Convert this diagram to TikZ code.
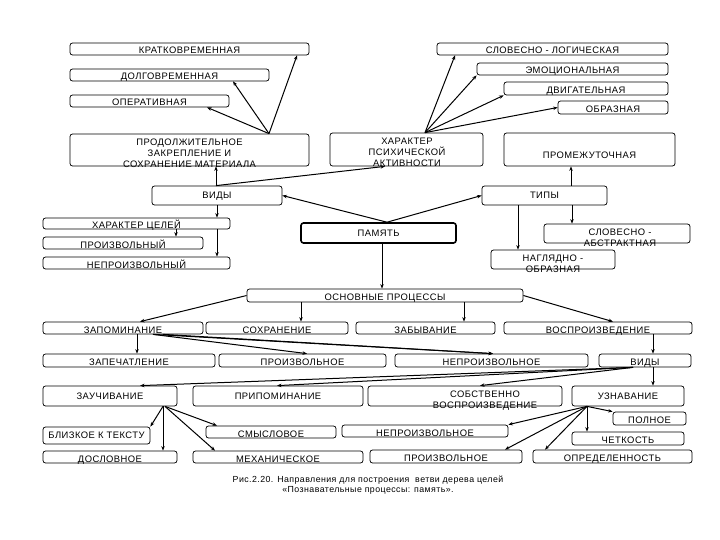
\documentclass[tikz,border=0pt]{standalone}
\usepackage{fontspec}
\setmainfont{Liberation Sans}[LetterSpace=5]
\usetikzlibrary{arrows.meta,calc}
\newcommand\mybox[7][]{%
  \pgfmathsetmacro\cxx{(#3+#5)/2}\pgfmathsetmacro\cyy{(#4+#6)/2}%
  \pgfmathsetmacro\ww{#5-#3}\pgfmathsetmacro\hh{#6-#4}%
  \node[box,minimum width=\ww pt,minimum height=\hh pt,#1] (#2) at (\cxx,\cyy) {#7};}
\begin{document}
\begin{tikzpicture}[x=1pt,y=-1pt,
  box/.style={draw,rounded corners=2.5pt,line width=0.75pt,inner sep=0pt,
    font=\fontsize{9.4}{10}\selectfont,text height=10pt,text depth=0pt},
  mid/.style={text height=6.8pt},
  arr/.style={-{Stealth[length=4.5pt,width=3.5pt]},line width=1pt},
  ml/.style={font=\fontsize{9.4}{11}\selectfont,align=center,inner sep=0pt}]
\useasboundingbox[fill=white] (0,0) rectangle (720,540);
% boxes
\mybox{krat}{70}{43}{309}{55}{КРАТКОВРЕМЕННАЯ}
\mybox{dolg}{70}{69}{269}{81}{ДОЛГОВРЕМЕННАЯ}
\mybox{oper}{70}{95}{229}{107}{ОПЕРАТИВНАЯ}
\mybox{prod}{70}{134}{309}{166}{}
\mybox{har}{330}{133}{483}{166}{}
\mybox[text height=18pt]{prom}{504}{133}{675}{166}{ПРОМЕЖУТОЧНАЯ}
\mybox{slog}{437}{43}{668}{55}{СЛОВЕСНО - ЛОГИЧЕСКАЯ}
\mybox{emo}{477}{63}{668}{75}{ЭМОЦИОНАЛЬНАЯ}
\mybox{dvig}{504}{82}{668}{95}{ДВИГАТЕЛЬНАЯ}
\mybox{obr}{558}{101}{668}{114}{ОБРАЗНАЯ}
\mybox[mid]{vidya}{152}{186}{282}{205}{ВИДЫ}
\mybox[mid]{tipy}{482}{186}{607}{205}{ТИПЫ}
\mybox[mid,line width=1.6pt]{pam}{301}{223}{456}{243}{ПАМЯТЬ}
\mybox{hc}{43}{218}{230}{229}{ХАРАКТЕР ЦЕЛЕЙ}
\mybox{proizva}{43}{237}{203}{249}{ПРОИЗВОЛЬНЫЙ}
\mybox{neprva}{43}{257}{230}{269}{НЕПРОИЗВОЛЬНЫЙ}
\mybox{slab}{544}{224}{690}{243}{}
\mybox{nagl}{491}{250}{615}{269}{}
\mybox{osn}{247}{289}{523}{302}{ОСНОВНЫЕ ПРОЦЕССЫ}
\mybox{zap}{43}{322}{203}{334}{ЗАПОМИНАНИЕ}
\mybox{sohr}{206}{322}{348}{334}{СОХРАНЕНИЕ}
\mybox{zab}{356}{322}{495}{334}{ЗАБЫВАНИЕ}
\mybox{vospr}{504}{322}{692}{334}{ВОСПРОИЗВЕДЕНИЕ}
\mybox{zapech}{43}{354}{215}{367}{ЗАПЕЧАТЛЕНИЕ}
\mybox{proizvb}{219}{354}{386}{367}{ПРОИЗВОЛЬНОЕ}
\mybox{neprvb}{395}{354}{588}{367}{НЕПРОИЗВОЛЬНОЕ}
\mybox{vidyb}{599}{354}{691}{367}{ВИДЫ}
\mybox[mid]{zauch}{43}{386}{177}{406}{ЗАУЧИВАНИЕ}
\mybox[mid]{pripom}{193}{386}{363}{406}{ПРИПОМИНАНИЕ}
\mybox{sobstv}{368}{386}{562}{406}{}
\mybox[mid]{uzn}{572}{386}{684}{406}{УЗНАВАНИЕ}
\mybox[mid]{blizk}{43}{427}{150}{444}{БЛИЗКОЕ К ТЕКСТУ}
\mybox{smysl}{206}{426}{336}{438}{СМЫСЛОВОЕ}
\mybox{neprvc}{342}{425}{508}{437}{НЕПРОИЗВОЛЬНОЕ}
\mybox{poln}{613}{412}{686}{425}{ПОЛНОЕ}
\mybox{chet}{572}{432}{684}{445}{ЧЕТКОСТЬ}
\mybox{dosl}{43}{451}{177}{463}{ДОСЛОВНОЕ}
\mybox{meh}{193}{451}{363}{463}{МЕХАНИЧЕСКОЕ}
\mybox{proizvc}{370}{450}{522}{463}{ПРОИЗВОЛЬНОЕ}
\mybox{opred}{533}{450}{692}{463}{ОПРЕДЕЛЕННОСТЬ}
% multi-line texts
\node[ml] (prodt) at (189.5,153) {ПРОДОЛЖИТЕЛЬНОЕ\\ЗАКРЕПЛЕНИЕ И\\СОХРАНЕНИЕ МАТЕРИАЛА};
\node[ml] (hart) at (407,152.5) {ХАРАКТЕР\\ПСИХИЧЕСКОЙ\\АКТИВНОСТИ};
\node[ml] (slabt) at (620,238) {СЛОВЕСНО -\\АБСТРАКТНАЯ};
\node[ml] (naglt) at (553,264) {НАГЛЯДНО -\\ОБРАЗНАЯ};
\node[ml] (sobstvt) at (485,401) {СОБСТВЕННО\\ВОСПРОИЗВЕДЕНИЕ};
% connectors
\draw[arr] (269,0|-prod.north) -- (297,0|-krat.south);
\draw[arr] (269,0|-prod.north) -- (233,0|-dolg.south);
\draw[arr] (269,0|-prod.north) -- (207,0|-oper.south);
\draw[arr] (425,0|-har.north) -- (455,0|-slog.south);
\draw[arr] (425,0|-har.north) -- (emo.south west);
\draw[arr] (425,0|-har.north) -- (dvig.south west);
\draw[arr] (425,0|-har.north) -- (obr.west);
\draw[arr] (216,0|-vidya.north) -- (216,0|-prod.south);
\draw[arr] (216,0|-vidya.north) -- (385,0|-har.south);
\draw[arr] (571,0|-tipy.north) -- (571,0|-prom.south);
\draw[arr] (387,0|-pam.north) -- (vidya.east);
\draw[arr] (387,0|-pam.north) -- (tipy.west);
\draw[arr] (382,0|-pam.south) -- (382,0|-osn.north);
\draw[arr] (217,0|-vidya.south) -- (217,0|-hc.north);
\draw[arr] (217,0|-hc.south) -- (217,0|-neprva.north);
\draw[arr] (176,0|-hc.south) -- (176,0|-proizva.north);
\draw[arr] (518,0|-tipy.south) -- (518,0|-nagl.north);
\draw[arr] (572,0|-tipy.south) -- (572,0|-slab.north);
\draw[arr] (osn.west) -- (140,0|-zap.north);
\draw[arr] (301,0|-osn.south) -- (301,0|-sohr.north);
\draw[arr] (464,0|-osn.south) -- (464,0|-zab.north);
\draw[arr] (osn.east) -- (613,0|-vospr.north);
\draw[arr] (137,0|-zap.south) -- (137,0|-zapech.north);
\draw[arr] (153,0|-zap.south) -- (307,0|-proizvb.north);
\draw[arr] (153,0|-zap.south) -- (493,0|-neprvb.north);
\draw[arr] (163,0|-zap.south) -- (493,0|-neprvb.north);
\draw[arr] (653,0|-vospr.south) -- (653,0|-vidyb.north);
\draw[arr] (653,0|-vidyb.south) -- (653,0|-uzn.north);
\draw[arr] (633,0|-vidyb.south) -- (140,0|-zauch.north);
\draw[arr] (633,0|-vidyb.south) -- (277,0|-pripom.north);
\draw[arr] (633,0|-vidyb.south) -- (480,0|-sobstv.north);
\draw[arr] (163,0|-zauch.south) -- (blizk.north east);
\draw[arr] (163,0|-zauch.south) -- (163,0|-dosl.north);
\draw[arr] (165,0|-zauch.south) -- (217,0|-smysl.north);
\draw[arr] (165,0|-zauch.south) -- (215,0|-meh.north);
\draw[arr] (587,0|-uzn.south) -- (poln.north west);
\draw[arr] (587,0|-uzn.south) -- (587,0|-chet.north);
\draw[arr] (587,0|-uzn.south) -- (neprvc.north east);
\draw[arr] (587,0|-uzn.south) -- (505,0|-proizvc.north);
\draw[arr] (587,0|-uzn.south) -- (545,0|-opred.north);
% caption
\node[align=center,inner sep=0pt,font=\fontsize{8.8}{9.5}\selectfont] (cap) at (368,485)
  {Рис.2.20. Направления для построения \ ветви дерева целей\\«Познавательные процессы: память».};
\end{tikzpicture}
\end{document}
